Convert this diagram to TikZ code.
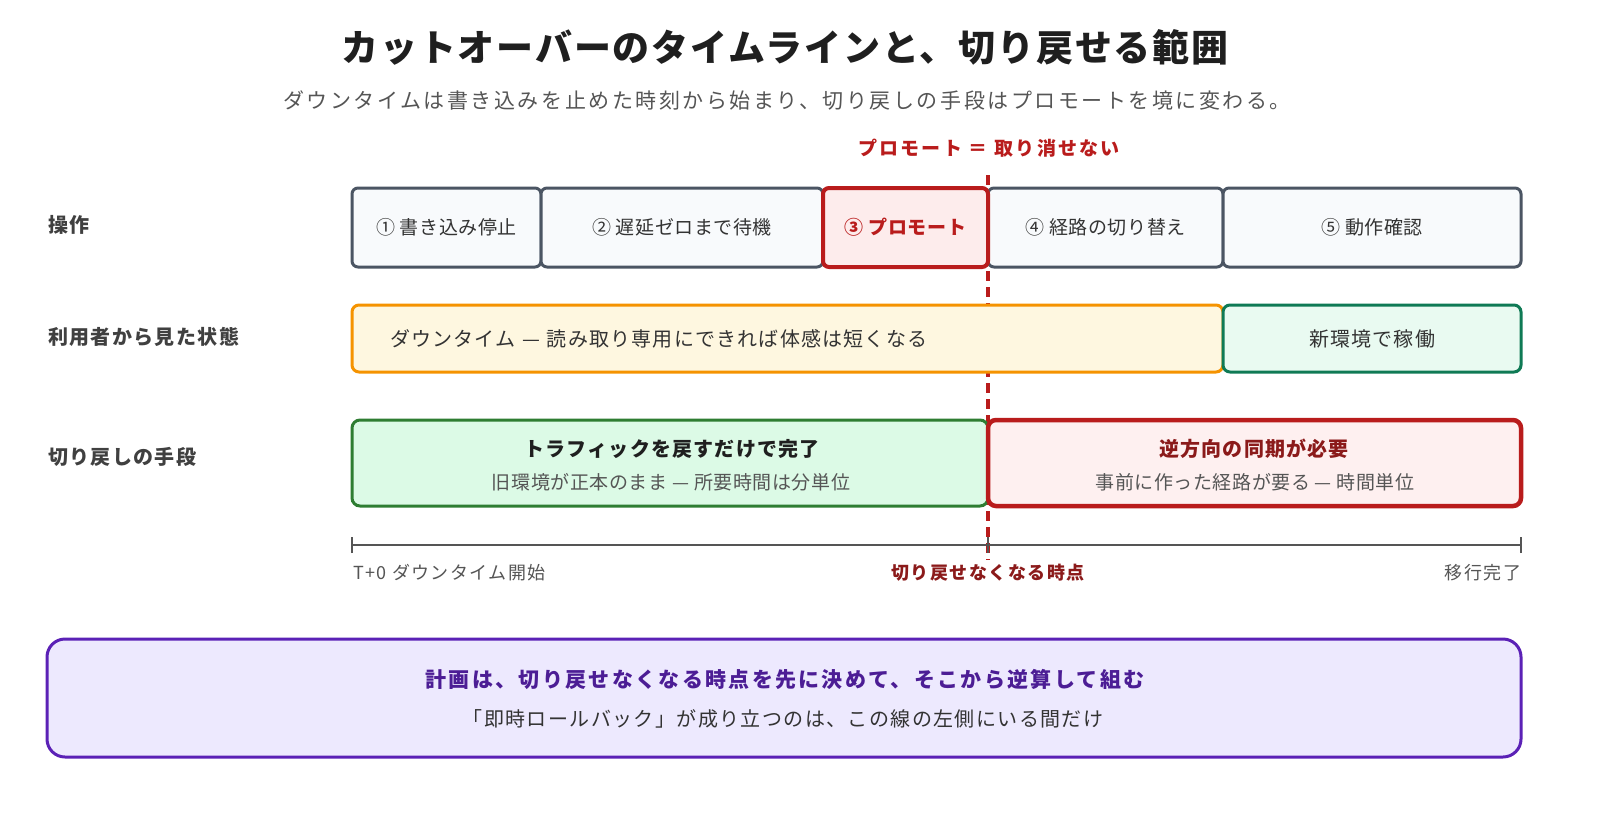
\documentclass[tikz,border=0pt]{standalone}
\usepackage{fontspec}
\setmainfont{Noto Sans CJK JP}
\usetikzlibrary{positioning}
\definecolor{titlec}{HTML}{1F1F1F}
\definecolor{subc}{HTML}{555555}
\definecolor{labc}{HTML}{404040}
\definecolor{boxtxt}{HTML}{333333}
\definecolor{slate}{HTML}{4B5563}
\definecolor{slatefill}{HTML}{F8FAFC}
\definecolor{redc}{HTML}{B91C1C}
\definecolor{darkred}{HTML}{8B1A1A}
\definecolor{redfill}{HTML}{FDECEC}
\definecolor{redfill2}{HTML}{FEF0F0}
\definecolor{orangec}{HTML}{F59300}
\definecolor{yellowfill}{HTML}{FEF7E0}
\definecolor{tealc}{HTML}{0F7A55}
\definecolor{tealfill}{HTML}{E9FAF1}
\definecolor{greenc}{HTML}{2E7D32}
\definecolor{greenfill}{HTML}{DCFAE6}
\definecolor{purplec}{HTML}{5B21B6}
\definecolor{purplefill}{HTML}{EDE9FE}
\definecolor{purpletxt}{HTML}{4C1D95}
\definecolor{axisc}{HTML}{555555}
\newcommand\fsz[2]{\fontsize{#1}{#1}\selectfont\addfontfeature{LetterSpace=#2}}
\tikzset{
  txt/.style={inner sep=0pt, outer sep=0pt},
  titletxt/.style={txt, text=titlec, font={\bfseries\fsz{37}{5}}},
  subtxt/.style={txt, text=subc, font={\fsz{21}{12}}},
  rowlab/.style={txt, anchor=west, text=labc, font={\bfseries\fsz{20}{7}}},
  stepbox/.style={draw=slate, fill=slatefill, line width=3pt, rounded corners=6pt,
    minimum height=79pt, inner sep=0pt, text=boxtxt, font={\fsz{19}{3}}},
  promobox/.style={stepbox, draw=redc, fill=redfill, line width=4pt, text=redc, font={\bfseries\fsz{19}{3}}},
  statebox/.style={line width=3pt, rounded corners=7pt, minimum height=67pt, inner sep=0pt,
    text=boxtxt, font={\fsz{20}{6}}},
  wayboxg/.style={draw=greenc, fill=greenfill, line width=3pt, rounded corners=8pt, minimum height=86pt, inner sep=0pt},
  wayboxr/.style={draw=redc, fill=redfill2, line width=4.5pt, rounded corners=8pt, minimum height=86pt, inner sep=0pt},
  waytitle/.style={txt, font={\bfseries\fsz{20}{6}}},
  waysub/.style={txt, text=subc, font={\fsz{19}{3}}},
  cutline/.style={draw=redc, line width=3.5pt, dash pattern=on 10pt off 6pt},
  axis/.style={draw=axisc, line width=2.5pt},
  axlab/.style={txt, text=subc, font={\fsz{18}{8}}},
}
\begin{document}
\begin{tikzpicture}[x=1pt,y=-1pt]
\useasboundingbox (0,0) rectangle (1600,820);
% title
\node[titletxt] (title) at (785,47) {カットオーバーのタイムラインと、切り戻せる範囲};
\node[subtxt] (subtitle) at (787,100) {ダウンタイムは書き込みを止めた時刻から始まり、切り戻しの手段はプロモートを境に変わる。};
\node[txt, text=redc, font={\bfseries\fsz{19}{12}}] (cutlab) at (989,148) {プロモート ＝ 取り消せない};
% cut line (behind boxes)
\coordinate (dtop) at (988,175);
\coordinate (dbot) at (988,560);
\draw[cutline] (dtop) -- (dbot);
% row labels
\node[rowlab] (l1) at (48,225) {操作};
\node[rowlab] (l2) at (48,337) {利用者から見た状態};
\node[rowlab] (l3) at (48,457) {切り戻しの手段};
% row 1
\node[stepbox, minimum width=189pt] (s1) at (446.5,227.5) {① 書き込み停止};
\node[stepbox, minimum width=282pt] (s2) at (682,227.5) {② 遅延ゼロまで待機};
\node[stepbox, minimum width=235pt] (s4) at (1105.5,227.5) {④ 経路の切り替え};
\node[stepbox, minimum width=298pt] (s5) at (1372,227.5) {⑤ 動作確認};
\node[promobox, minimum width=165pt] (s3) at (905.5,227.5) {③ プロモート};
% row 2
\node[statebox, draw=orangec, fill=yellowfill, minimum width=871pt, text width=795pt, inner xsep=38pt, align=left] (down) at (787.5,338.5) {ダウンタイム — 読み取り専用にできれば体感は短くなる};
\node[statebox, draw=tealc, fill=tealfill, minimum width=298pt] (newenv) at (1372,338.5) {新環境で稼働};
% row 3
\node[wayboxg, minimum width=636pt] (gback) at (670,463) {};
\node[wayboxr, minimum width=533pt] (rback) at (1254.5,463) {};
\node[waytitle, text=titlec] (gt) at (672,449) {トラフィックを戻すだけで完了};
\node[waysub] (gs) at (671,482) {旧環境が正本のまま — 所要時間は分単位};
\node[waytitle, text=darkred] (rt) at (1254,449) {逆方向の同期が必要};
\node[waysub] (rs) at (1255,482) {事前に作った経路が要る — 時間単位};
% axis
\coordinate (a0) at (352,545);
\coordinate (a1) at (988,545);
\coordinate (a2) at (1521,545);
\draw[axis] (a0) -- (a2);
\draw[axis, line width=2pt] ([yshift=-8pt]a0) -- ([yshift=8pt]a0);
\draw[axis, line width=2pt] ([yshift=-8pt]a1) -- ([yshift=8pt]a1);
\draw[axis, line width=2pt] ([yshift=-8pt]a2) -- ([yshift=8pt]a2);
\node[axlab, anchor=west] (t0) at (353,573) {T+0 ダウンタイム開始};
\node[txt, text=darkred, font={\bfseries\fsz{18}{8}}] (tcut) at (988,573) {切り戻せなくなる時点};
\node[axlab, anchor=east] (tend) at (1521,573) {移行完了};
% bottom
\node[draw=purplec, fill=purplefill, line width=3pt, rounded corners=18pt, minimum width=1474pt, minimum height=118pt, inner sep=0pt] (plan) at (784,698) {};
\node[txt, text=purpletxt, font={\bfseries\fsz{21}{11}}] (plan1) at (785,679) {計画は、切り戻せなくなる時点を先に決めて、そこから逆算して組む};
\node[txt, text=boxtxt, font={\fsz{20}{7}}] (plan2) at (783,719) {「即時ロールバック」が成り立つのは、この線の左側にいる間だけ};
\end{tikzpicture}
\end{document}
